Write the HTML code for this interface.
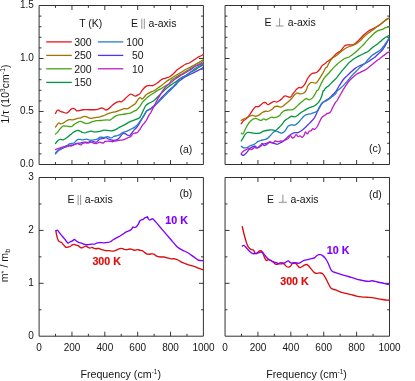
<!DOCTYPE html>
<html><head><meta charset="utf-8"><title>chart</title>
<style>
html,body{margin:0;padding:0;background:#fff;}
body{width:415px;height:381px;overflow:hidden;}
svg{display:block;font-family:"Liberation Sans",sans-serif;will-change:transform;filter:opacity(1);}
</style></head><body>
<svg width="415" height="381" viewBox="0 0 415 381">
<rect width="415" height="381" fill="#fff"/>
<path d="M39.10,5.50 H203.40 V164.50 H39.10 Z" fill="none" stroke="#262626" stroke-width="0.95"/>
<path d=" M55.53,164.50 v-2.40 M55.53,5.50 v2.40 M71.96,164.50 v-4.50 M71.96,5.50 v4.50 M88.39,164.50 v-2.40 M88.39,5.50 v2.40 M104.82,164.50 v-4.50 M104.82,5.50 v4.50 M121.25,164.50 v-2.40 M121.25,5.50 v2.40 M137.68,164.50 v-4.50 M137.68,5.50 v4.50 M154.11,164.50 v-2.40 M154.11,5.50 v2.40 M170.54,164.50 v-4.50 M170.54,5.50 v4.50 M186.97,164.50 v-2.40 M186.97,5.50 v2.40 M39.10,153.90 h2.40 M203.40,153.90 h-2.40 M39.10,143.30 h2.40 M203.40,143.30 h-2.40 M39.10,132.70 h2.40 M203.40,132.70 h-2.40 M39.10,122.10 h2.40 M203.40,122.10 h-2.40 M39.10,111.50 h4.50 M203.40,111.50 h-4.50 M39.10,100.90 h2.40 M203.40,100.90 h-2.40 M39.10,90.30 h2.40 M203.40,90.30 h-2.40 M39.10,79.70 h2.40 M203.40,79.70 h-2.40 M39.10,69.10 h2.40 M203.40,69.10 h-2.40 M39.10,58.50 h4.50 M203.40,58.50 h-4.50 M39.10,47.90 h2.40 M203.40,47.90 h-2.40 M39.10,37.30 h2.40 M203.40,37.30 h-2.40 M39.10,26.70 h2.40 M203.40,26.70 h-2.40 M39.10,16.10 h2.40 M203.40,16.10 h-2.40" fill="none" stroke="#222" stroke-width="0.9"/>
<path d="M225.05,5.50 H389.50 V164.50 H225.05 Z" fill="none" stroke="#262626" stroke-width="0.95"/>
<path d=" M241.50,164.50 v-2.40 M241.50,5.50 v2.40 M257.94,164.50 v-4.50 M257.94,5.50 v4.50 M274.38,164.50 v-2.40 M274.38,5.50 v2.40 M290.83,164.50 v-4.50 M290.83,5.50 v4.50 M307.27,164.50 v-2.40 M307.27,5.50 v2.40 M323.72,164.50 v-4.50 M323.72,5.50 v4.50 M340.16,164.50 v-2.40 M340.16,5.50 v2.40 M356.61,164.50 v-4.50 M356.61,5.50 v4.50 M373.06,164.50 v-2.40 M373.06,5.50 v2.40 M225.05,153.90 h2.40 M389.50,153.90 h-2.40 M225.05,143.30 h2.40 M389.50,143.30 h-2.40 M225.05,132.70 h2.40 M389.50,132.70 h-2.40 M225.05,122.10 h2.40 M389.50,122.10 h-2.40 M225.05,111.50 h4.50 M389.50,111.50 h-4.50 M225.05,100.90 h2.40 M389.50,100.90 h-2.40 M225.05,90.30 h2.40 M389.50,90.30 h-2.40 M225.05,79.70 h2.40 M389.50,79.70 h-2.40 M225.05,69.10 h2.40 M389.50,69.10 h-2.40 M225.05,58.50 h4.50 M389.50,58.50 h-4.50 M225.05,47.90 h2.40 M389.50,47.90 h-2.40 M225.05,37.30 h2.40 M389.50,37.30 h-2.40 M225.05,26.70 h2.40 M389.50,26.70 h-2.40 M225.05,16.10 h2.40 M389.50,16.10 h-2.40" fill="none" stroke="#222" stroke-width="0.9"/>
<path d="M39.10,177.50 H203.40 V336.20 H39.10 Z" fill="none" stroke="#262626" stroke-width="0.95"/>
<path d=" M55.53,336.20 v-2.40 M55.53,177.50 v2.40 M71.96,336.20 v-4.50 M71.96,177.50 v4.50 M88.39,336.20 v-2.40 M88.39,177.50 v2.40 M104.82,336.20 v-4.50 M104.82,177.50 v4.50 M121.25,336.20 v-2.40 M121.25,177.50 v2.40 M137.68,336.20 v-4.50 M137.68,177.50 v4.50 M154.11,336.20 v-2.40 M154.11,177.50 v2.40 M170.54,336.20 v-4.50 M170.54,177.50 v4.50 M186.97,336.20 v-2.40 M186.97,177.50 v2.40 M39.10,309.75 h2.40 M203.40,309.75 h-2.40 M39.10,283.30 h4.50 M203.40,283.30 h-4.50 M39.10,256.85 h2.40 M203.40,256.85 h-2.40 M39.10,230.40 h4.50 M203.40,230.40 h-4.50 M39.10,203.95 h2.40 M203.40,203.95 h-2.40" fill="none" stroke="#222" stroke-width="0.9"/>
<path d="M225.05,177.50 H389.50 V336.20 H225.05 Z" fill="none" stroke="#262626" stroke-width="0.95"/>
<path d=" M241.50,336.20 v-2.40 M241.50,177.50 v2.40 M257.94,336.20 v-4.50 M257.94,177.50 v4.50 M274.38,336.20 v-2.40 M274.38,177.50 v2.40 M290.83,336.20 v-4.50 M290.83,177.50 v4.50 M307.27,336.20 v-2.40 M307.27,177.50 v2.40 M323.72,336.20 v-4.50 M323.72,177.50 v4.50 M340.16,336.20 v-2.40 M340.16,177.50 v2.40 M356.61,336.20 v-4.50 M356.61,177.50 v4.50 M373.06,336.20 v-2.40 M373.06,177.50 v2.40 M225.05,309.75 h2.40 M389.50,309.75 h-2.40 M225.05,283.30 h4.50 M389.50,283.30 h-4.50 M225.05,256.85 h2.40 M389.50,256.85 h-2.40 M225.05,230.40 h4.50 M389.50,230.40 h-4.50 M225.05,203.95 h2.40 M389.50,203.95 h-2.40" fill="none" stroke="#222" stroke-width="0.9"/>
<path d="M55.49,113.51 C55.73,113.02 56.41,111.17 56.94,110.61 C57.47,110.06 58.02,110.01 58.67,110.18 C59.32,110.35 60.12,111.31 60.84,111.63 C61.57,111.94 62.17,111.82 63.01,112.06 C63.85,112.30 65.06,113.02 65.90,113.07 C66.75,113.12 67.23,113.00 68.07,112.35 C68.91,111.70 70.12,109.84 70.96,109.17 C71.81,108.49 72.41,108.25 73.13,108.30 C73.85,108.35 74.70,109.02 75.30,109.46 C75.90,109.89 76.14,110.71 76.75,110.90 C77.35,111.10 77.83,110.81 78.91,110.61 C80.00,110.42 81.56,109.89 83.25,109.75 C84.94,109.60 87.35,109.75 89.03,109.75 C90.72,109.75 91.93,109.79 93.37,109.75 C94.82,109.70 96.60,109.69 97.71,109.46 C98.81,109.22 99.20,108.56 100.00,108.33 C100.80,108.10 101.57,107.81 102.52,108.08 C103.46,108.35 104.83,109.76 105.67,109.97 C106.51,110.18 106.82,109.76 107.56,109.34 C108.29,108.92 109.24,108.19 110.08,107.45 C110.92,106.72 111.54,105.77 112.59,104.93 C113.64,104.09 115.32,102.98 116.37,102.41 C117.42,101.85 118.05,101.64 118.89,101.53 C119.73,101.43 120.57,102.06 121.41,101.78 C122.25,101.51 123.09,100.63 123.93,99.89 C124.77,99.16 125.40,98.32 126.45,97.38 C127.50,96.43 129.18,94.65 130.23,94.23 C131.28,93.81 131.91,94.54 132.75,94.86 C133.59,95.17 134.42,96.12 135.26,96.12 C136.10,96.12 136.99,95.27 137.78,94.86 C138.57,94.44 139.19,94.48 140.00,93.62 C140.81,92.76 141.64,90.89 142.62,89.69 C143.61,88.48 144.81,87.10 145.91,86.40 C147.00,85.70 147.98,85.64 149.19,85.49 C150.39,85.33 151.68,85.96 153.12,85.49 C154.57,85.01 156.43,83.67 157.87,82.65 C159.32,81.63 160.50,80.14 161.81,79.37 C163.12,78.60 164.44,78.50 165.75,78.06 C167.06,77.62 168.37,77.51 169.69,76.75 C171.00,75.98 172.31,74.67 173.62,73.46 C174.93,72.26 176.25,70.62 177.56,69.53 C178.87,68.43 180.18,67.78 181.50,66.90 C182.81,66.03 184.12,64.93 185.43,64.28 C186.75,63.62 188.06,63.62 189.37,62.97 C190.68,62.31 191.99,61.22 193.31,60.34 C194.62,59.47 195.93,58.48 197.24,57.72 C198.56,56.95 200.17,56.29 201.18,55.75 C202.19,55.20 202.93,54.65 203.28,54.44" fill="none" stroke="#e41820" stroke-width="1.3" stroke-linejoin="round" stroke-linecap="round"/>
<path d="M55.49,127.09 C55.78,126.69 56.65,125.34 57.23,124.64 C57.81,123.94 58.36,123.02 58.96,122.90 C59.57,122.78 60.17,123.87 60.84,123.91 C61.52,123.96 62.29,123.55 63.01,123.19 C63.73,122.83 64.46,122.23 65.18,121.75 C65.90,121.26 66.63,120.66 67.35,120.30 C68.07,119.94 68.79,119.65 69.52,119.58 C70.24,119.50 70.96,119.87 71.69,119.87 C72.41,119.87 73.13,119.75 73.85,119.58 C74.58,119.41 75.30,119.10 76.02,118.85 C76.75,118.61 77.47,118.25 78.19,118.13 C78.91,118.01 79.64,118.32 80.36,118.13 C81.08,117.94 81.81,117.26 82.53,116.97 C83.25,116.69 83.97,116.40 84.70,116.40 C85.42,116.40 86.14,116.73 86.87,116.97 C87.59,117.22 88.31,117.60 89.03,117.84 C89.76,118.08 90.48,118.42 91.20,118.42 C91.93,118.42 92.53,118.01 93.37,117.84 C94.21,117.67 95.17,117.58 96.26,117.41 C97.36,117.24 98.69,117.10 99.94,116.81 C101.19,116.52 102.51,116.17 103.78,115.67 C105.05,115.16 106.30,114.30 107.56,113.78 C108.82,113.25 110.08,112.83 111.34,112.52 C112.59,112.20 113.85,112.20 115.11,111.89 C116.37,111.57 117.42,111.16 118.89,110.63 C120.36,110.10 122.46,109.03 123.93,108.71 C125.40,108.39 126.45,109.13 127.71,108.71 C128.97,108.29 130.23,107.03 131.49,106.19 C132.75,105.35 134.21,104.72 135.26,103.67 C136.31,102.62 136.99,100.91 137.78,99.89 C138.57,98.88 139.19,97.73 140.00,97.56 C140.81,97.39 141.64,99.31 142.62,98.87 C143.61,98.43 145.03,95.81 145.91,94.93 C146.78,94.06 146.89,94.17 147.87,93.62 C148.86,93.08 150.50,92.31 151.81,91.65 C153.12,91.00 154.74,90.31 155.75,89.69 C156.76,89.06 156.86,88.64 157.87,87.90 C158.88,87.17 160.50,86.26 161.81,85.28 C163.12,84.29 164.44,82.98 165.75,81.99 C167.06,81.01 168.37,80.24 169.69,79.37 C171.00,78.50 172.31,77.58 173.62,76.75 C174.93,75.91 176.25,75.15 177.56,74.38 C178.87,73.62 180.18,72.96 181.50,72.15 C182.81,71.34 184.12,70.29 185.43,69.53 C186.75,68.76 188.06,68.22 189.37,67.56 C190.68,66.90 191.99,66.29 193.31,65.59 C194.62,64.89 195.93,64.13 197.24,63.36 C198.56,62.59 200.17,61.61 201.18,61.00 C202.19,60.38 202.93,59.90 203.28,59.69" fill="none" stroke="#a07400" stroke-width="1.3" stroke-linejoin="round" stroke-linecap="round"/>
<path d="M55.49,134.03 C55.78,133.79 56.65,133.19 57.23,132.59 C57.81,131.99 58.36,131.19 58.96,130.42 C59.57,129.65 60.17,128.69 60.84,127.96 C61.52,127.24 62.29,126.40 63.01,126.08 C63.73,125.77 64.46,126.08 65.18,126.08 C65.90,126.08 66.63,126.01 67.35,126.08 C68.07,126.16 68.79,126.44 69.52,126.52 C70.24,126.59 70.96,126.83 71.69,126.52 C72.41,126.20 73.13,125.19 73.85,124.64 C74.58,124.08 75.30,123.63 76.02,123.19 C76.75,122.76 77.47,122.32 78.19,122.03 C78.91,121.75 79.64,121.43 80.36,121.46 C81.08,121.48 81.81,121.89 82.53,122.18 C83.25,122.47 83.97,122.95 84.70,123.19 C85.42,123.43 86.14,123.63 86.87,123.63 C87.59,123.63 88.31,123.43 89.03,123.19 C89.76,122.95 90.48,122.47 91.20,122.18 C91.93,121.89 92.53,121.70 93.37,121.46 C94.21,121.22 95.17,120.89 96.26,120.73 C97.36,120.57 98.69,120.61 99.94,120.50 C101.19,120.39 102.51,120.19 103.78,120.08 C105.05,119.96 106.51,119.82 107.56,119.82 C108.61,119.82 109.24,120.35 110.08,120.08 C110.92,119.80 111.54,118.92 112.59,118.19 C113.64,117.45 115.32,116.23 116.37,115.67 C117.42,115.10 117.84,115.00 118.89,114.79 C119.94,114.58 121.41,114.58 122.67,114.41 C123.93,114.24 125.19,113.99 126.45,113.78 C127.71,113.57 129.18,113.46 130.23,113.15 C131.28,112.83 131.91,112.31 132.75,111.89 C133.59,111.47 134.63,110.95 135.26,110.63 C135.89,110.31 135.73,110.73 136.52,109.97 C137.31,109.21 138.98,107.39 140.00,106.09 C141.02,104.79 141.64,103.36 142.62,102.15 C143.61,100.95 144.70,99.97 145.91,98.87 C147.11,97.78 148.53,96.57 149.84,95.59 C151.15,94.61 152.47,93.84 153.78,92.97 C155.09,92.09 156.40,91.11 157.72,90.34 C159.03,89.58 160.34,89.14 161.65,88.37 C162.97,87.61 164.28,86.51 165.59,85.75 C166.90,84.98 168.63,84.62 169.53,83.78 C170.43,82.94 170.10,81.64 171.00,80.68 C171.90,79.73 173.62,78.93 174.93,78.06 C176.25,77.18 177.56,76.20 178.87,75.43 C180.18,74.67 181.50,74.23 182.81,73.46 C184.12,72.70 185.43,71.65 186.75,70.84 C188.06,70.03 189.37,69.37 190.68,68.61 C191.99,67.84 193.31,66.97 194.62,66.25 C195.93,65.52 197.11,65.09 198.56,64.28 C200.00,63.47 202.49,61.87 203.28,61.39" fill="none" stroke="#44a614" stroke-width="1.3" stroke-linejoin="round" stroke-linecap="round"/>
<path d="M55.49,143.51 C55.78,143.12 56.65,141.82 57.23,141.19 C57.81,140.57 58.36,140.04 58.96,139.75 C59.57,139.46 60.17,139.43 60.84,139.46 C61.52,139.48 62.29,140.01 63.01,139.89 C63.73,139.77 64.46,139.17 65.18,138.73 C65.90,138.30 66.63,137.82 67.35,137.29 C68.07,136.76 68.79,136.16 69.52,135.55 C70.24,134.95 70.96,134.28 71.69,133.67 C72.41,133.07 73.13,132.42 73.85,131.94 C74.58,131.46 75.30,131.02 76.02,130.78 C76.75,130.54 77.47,130.42 78.19,130.49 C78.91,130.57 79.64,130.88 80.36,131.22 C81.08,131.55 81.81,132.23 82.53,132.52 C83.25,132.81 83.97,133.00 84.70,132.95 C85.42,132.90 86.14,132.47 86.87,132.23 C87.59,131.99 88.31,131.70 89.03,131.51 C89.76,131.31 90.48,131.02 91.20,131.07 C91.93,131.12 92.53,131.67 93.37,131.79 C94.21,131.92 95.17,131.88 96.26,131.79 C97.36,131.71 98.69,131.59 99.94,131.31 C101.19,131.04 102.51,130.30 103.78,130.15 C105.05,130.00 106.30,130.30 107.56,130.40 C108.82,130.51 110.08,130.86 111.34,130.78 C112.59,130.70 113.85,130.42 115.11,129.90 C116.37,129.37 117.63,128.32 118.89,127.63 C120.15,126.94 121.41,126.41 122.67,125.74 C123.93,125.07 125.19,124.29 126.45,123.60 C127.71,122.91 128.97,122.17 130.23,121.59 C131.49,121.00 132.75,120.58 134.01,120.08 C135.26,119.57 136.78,119.04 137.78,118.56 C138.78,118.09 139.19,118.34 140.00,117.24 C140.81,116.15 141.64,113.96 142.62,111.99 C143.61,110.03 144.70,106.96 145.91,105.43 C147.11,103.90 148.53,103.57 149.84,102.81 C151.15,102.04 152.58,101.71 153.78,100.84 C154.98,99.97 155.86,98.76 157.06,97.56 C158.26,96.36 159.69,94.93 161.00,93.62 C162.31,92.31 163.62,90.89 164.93,89.69 C166.25,88.48 167.56,87.39 168.87,86.40 C170.18,85.42 171.50,84.65 172.81,83.78 C174.12,82.90 175.73,81.89 176.75,81.15 C177.76,80.42 177.86,80.10 178.87,79.37 C179.88,78.64 181.50,77.45 182.81,76.75 C184.12,76.05 185.43,75.94 186.75,75.17 C188.06,74.41 189.37,72.98 190.68,72.15 C191.99,71.32 193.31,70.95 194.62,70.18 C195.93,69.42 197.11,68.43 198.56,67.56 C200.00,66.68 202.49,65.37 203.28,64.93" fill="none" stroke="#009640" stroke-width="1.3" stroke-linejoin="round" stroke-linecap="round"/>
<path d="M55.49,153.91 C55.78,153.55 56.58,152.40 57.23,151.75 C57.88,151.10 58.67,150.49 59.40,150.01 C60.12,149.53 60.72,149.29 61.57,148.85 C62.41,148.42 63.49,147.82 64.46,147.41 C65.42,147.00 66.51,146.76 67.35,146.40 C68.19,146.04 68.79,145.43 69.52,145.24 C70.24,145.05 70.96,145.36 71.69,145.24 C72.41,145.12 73.13,144.81 73.85,144.52 C74.58,144.23 75.30,143.75 76.02,143.51 C76.75,143.26 77.47,143.14 78.19,143.07 C78.91,143.00 79.64,143.19 80.36,143.07 C81.08,142.95 81.81,142.52 82.53,142.35 C83.25,142.18 83.97,142.06 84.70,142.06 C85.42,142.06 86.14,142.35 86.87,142.35 C87.59,142.35 88.31,142.30 89.03,142.06 C89.76,141.82 90.48,140.98 91.20,140.90 C91.93,140.83 92.53,141.43 93.37,141.63 C94.21,141.82 95.42,142.30 96.26,142.06 C97.11,141.82 97.81,140.70 98.43,140.18 C99.05,139.66 99.11,139.27 100.00,138.97 C100.89,138.66 102.73,138.55 103.78,138.34 C104.83,138.13 105.46,137.56 106.30,137.71 C107.14,137.85 107.77,138.80 108.82,139.22 C109.87,139.64 111.34,140.10 112.59,140.23 C113.85,140.35 115.32,140.29 116.37,139.97 C117.42,139.66 118.05,139.14 118.89,138.34 C119.73,137.54 120.68,136.03 121.41,135.19 C122.15,134.35 122.67,133.55 123.30,133.30 C123.93,133.05 124.45,133.36 125.19,133.68 C125.92,133.99 126.97,134.83 127.71,135.19 C128.44,135.55 128.97,136.13 129.60,135.82 C130.23,135.50 130.75,134.24 131.49,133.30 C132.22,132.36 133.17,131.10 134.01,130.15 C134.84,129.21 135.68,128.68 136.52,127.63 C137.36,126.58 137.59,126.24 139.04,123.85 C140.50,121.47 143.89,115.50 145.25,113.31 C146.61,111.11 146.34,111.45 147.22,110.68 C148.09,109.92 149.41,109.48 150.50,108.71 C151.59,107.95 152.58,107.18 153.78,106.09 C154.98,105.00 156.40,103.57 157.72,102.15 C159.03,100.73 160.34,98.98 161.65,97.56 C162.97,96.14 164.28,94.93 165.59,93.62 C166.90,92.31 168.22,90.89 169.53,89.69 C170.84,88.48 172.15,87.61 173.46,86.40 C174.78,85.20 176.06,83.64 177.40,82.47 C178.74,81.29 180.16,80.32 181.50,79.37 C182.83,78.42 184.12,77.51 185.43,76.75 C186.75,75.98 188.06,75.43 189.37,74.78 C190.68,74.12 191.99,73.46 193.31,72.81 C194.62,72.15 195.93,71.50 197.24,70.84 C198.56,70.18 200.17,69.46 201.18,68.87 C202.19,68.28 202.93,67.56 203.28,67.30" fill="none" stroke="#5434f0" stroke-width="1.3" stroke-linejoin="round" stroke-linecap="round"/>
<path d="M55.49,153.19 C55.78,152.83 56.58,151.67 57.23,151.02 C57.88,150.37 58.67,149.77 59.40,149.29 C60.12,148.81 60.72,148.57 61.57,148.13 C62.41,147.70 63.49,147.17 64.46,146.69 C65.42,146.20 66.51,145.72 67.35,145.24 C68.19,144.76 68.79,144.08 69.52,143.79 C70.24,143.51 70.96,143.63 71.69,143.51 C72.41,143.38 73.13,143.51 73.85,143.07 C74.58,142.64 75.30,141.51 76.02,140.90 C76.75,140.30 77.47,139.70 78.19,139.46 C78.91,139.22 79.64,139.38 80.36,139.46 C81.08,139.53 81.81,139.89 82.53,139.89 C83.25,139.89 83.97,139.58 84.70,139.46 C85.42,139.34 86.14,139.10 86.87,139.17 C87.59,139.24 88.31,139.72 89.03,139.89 C89.76,140.06 90.48,140.18 91.20,140.18 C91.93,140.18 92.53,140.01 93.37,139.89 C94.21,139.77 95.42,139.72 96.26,139.46 C97.11,139.19 97.81,138.70 98.43,138.30 C99.05,137.90 99.11,137.22 100.00,137.08 C100.89,136.94 102.52,137.52 103.78,137.46 C105.04,137.39 106.30,136.62 107.56,136.70 C108.82,136.78 110.29,138.00 111.34,137.96 C112.38,137.92 113.01,136.81 113.85,136.45 C114.69,136.09 115.53,136.03 116.37,135.82 C117.21,135.61 118.05,135.61 118.89,135.19 C119.73,134.77 120.57,133.82 121.41,133.30 C122.25,132.77 123.09,132.36 123.93,132.04 C124.77,131.73 125.61,131.73 126.45,131.41 C127.29,131.10 128.13,130.57 128.97,130.15 C129.81,129.73 130.65,129.31 131.49,128.89 C132.33,128.47 133.17,128.16 134.01,127.63 C134.84,127.11 135.68,126.58 136.52,125.74 C137.36,124.90 137.81,124.34 139.04,122.59 C140.28,120.85 142.68,117.26 143.94,115.28 C145.19,113.29 145.58,111.67 146.56,110.68 C147.55,109.70 148.75,109.92 149.84,109.37 C150.94,108.82 151.92,108.39 153.12,107.40 C154.33,106.42 155.75,104.78 157.06,103.46 C158.37,102.15 159.69,100.84 161.00,99.53 C162.31,98.22 163.62,96.90 164.93,95.59 C166.25,94.28 167.56,92.97 168.87,91.65 C170.18,90.34 171.50,89.03 172.81,87.72 C174.12,86.40 175.63,85.17 176.75,83.78 C177.87,82.39 178.41,80.50 179.53,79.37 C180.65,78.24 182.15,77.84 183.46,77.01 C184.78,76.18 186.09,75.30 187.40,74.38 C188.71,73.46 190.03,72.52 191.34,71.50 C192.65,70.47 193.96,69.09 195.28,68.22 C196.59,67.34 197.88,66.92 199.21,66.25 C200.55,65.57 202.60,64.50 203.28,64.15" fill="none" stroke="#2a7fc0" stroke-width="1.3" stroke-linejoin="round" stroke-linecap="round"/>
<path d="M55.49,149.58 C55.78,149.46 56.58,149.10 57.23,148.85 C57.88,148.61 58.67,148.37 59.40,148.13 C60.12,147.89 60.72,147.65 61.57,147.41 C62.41,147.17 63.49,146.85 64.46,146.69 C65.42,146.52 66.51,146.52 67.35,146.40 C68.19,146.28 68.79,146.04 69.52,145.96 C70.24,145.89 70.96,146.13 71.69,145.96 C72.41,145.79 73.13,145.31 73.85,144.95 C74.58,144.59 75.30,143.99 76.02,143.79 C76.75,143.60 77.47,143.60 78.19,143.79 C78.91,143.99 79.64,145.00 80.36,144.95 C81.08,144.90 81.81,143.87 82.53,143.51 C83.25,143.14 83.97,142.85 84.70,142.78 C85.42,142.71 86.14,143.07 86.87,143.07 C87.59,143.07 88.31,142.95 89.03,142.78 C89.76,142.61 90.48,142.01 91.20,142.06 C91.93,142.11 92.53,142.83 93.37,143.07 C94.21,143.31 95.42,143.58 96.26,143.51 C97.11,143.43 97.81,142.87 98.43,142.64 C99.05,142.41 99.21,142.06 100.00,142.12 C100.79,142.18 102.31,143.10 103.15,143.00 C103.99,142.89 104.09,141.78 105.04,141.49 C105.98,141.19 107.56,141.19 108.82,141.23 C110.08,141.28 111.34,141.80 112.59,141.74 C113.85,141.68 115.11,141.11 116.37,140.86 C117.63,140.60 118.89,140.44 120.15,140.23 C121.41,140.02 122.67,139.97 123.93,139.60 C125.19,139.22 126.55,138.48 127.71,137.96 C128.86,137.43 130.02,137.12 130.86,136.45 C131.70,135.78 132.12,134.50 132.75,133.93 C133.38,133.36 133.90,133.26 134.63,133.05 C135.37,132.84 136.31,133.26 137.15,132.67 C137.99,132.08 138.83,130.68 139.67,129.52 C140.51,128.37 141.35,126.90 142.19,125.74 C143.03,124.59 143.98,123.55 144.71,122.59 C145.44,121.64 145.93,121.11 146.56,120.00 C147.20,118.89 147.76,117.27 148.53,115.93 C149.30,114.60 150.28,113.53 151.15,111.99 C152.03,110.46 152.90,108.50 153.78,106.75 C154.65,105.00 155.42,103.36 156.40,101.50 C157.39,99.64 158.59,97.45 159.69,95.59 C160.78,93.73 161.87,91.87 162.97,90.34 C164.06,88.81 165.04,87.61 166.25,86.40 C167.45,85.20 169.28,83.86 170.18,83.12 C171.08,82.39 170.75,82.73 171.65,81.99 C172.55,81.26 174.28,79.70 175.59,78.71 C176.90,77.73 178.22,76.90 179.53,76.09 C180.84,75.28 182.15,74.62 183.46,73.86 C184.78,73.09 186.09,72.28 187.40,71.50 C188.71,70.71 190.03,70.01 191.34,69.13 C192.65,68.26 193.96,66.95 195.28,66.25 C196.59,65.55 197.88,65.48 199.21,64.93 C200.55,64.39 202.60,63.29 203.28,62.97" fill="none" stroke="#c01cc8" stroke-width="1.3" stroke-linejoin="round" stroke-linecap="round"/>
<path d="M241.25,123.71 C241.58,123.28 242.45,121.85 243.22,121.09 C243.98,120.32 244.97,119.89 245.84,119.12 C246.72,118.36 247.59,117.59 248.47,116.50 C249.34,115.40 250.22,113.87 251.09,112.56 C251.97,111.25 252.95,109.61 253.72,108.62 C254.48,107.64 254.92,106.98 255.69,106.65 C256.45,106.33 257.43,106.98 258.31,106.65 C259.18,106.33 260.06,105.34 260.93,104.69 C261.81,104.03 262.79,103.04 263.56,102.72 C264.32,102.39 264.76,102.39 265.53,102.72 C266.29,103.04 267.28,104.62 268.15,104.69 C269.03,104.75 269.79,103.66 270.78,103.11 C271.76,102.56 273.07,101.58 274.06,101.40 C275.04,101.23 275.81,102.17 276.68,102.06 C277.56,101.95 278.43,101.29 279.31,100.75 C280.18,100.20 280.98,99.59 281.93,98.78 C282.88,97.97 283.61,96.17 285.00,95.91 C286.39,95.65 288.94,97.55 290.25,97.22 C291.56,96.89 292.00,95.03 292.87,93.94 C293.75,92.84 294.95,91.38 295.50,90.66 C296.05,89.94 295.61,90.12 296.15,89.62 C296.70,89.12 297.90,87.98 298.78,87.65 C299.65,87.32 300.42,88.20 301.40,87.65 C302.39,87.10 303.70,85.79 304.69,84.37 C305.67,82.95 306.43,80.65 307.31,79.12 C308.18,77.59 308.95,76.17 309.93,75.18 C310.92,74.20 312.12,73.65 313.22,73.22 C314.31,72.78 315.40,73.22 316.50,72.56 C317.59,71.90 318.79,70.48 319.78,69.28 C320.76,68.08 321.42,66.33 322.40,65.34 C323.39,64.36 325.03,63.90 325.68,63.37 C326.33,62.85 325.77,62.68 326.31,62.20 C326.85,61.73 327.84,61.33 328.94,60.50 C330.03,59.67 331.56,58.42 332.87,57.22 C334.19,56.01 335.50,54.37 336.81,53.28 C338.12,52.19 339.40,51.92 340.75,50.66 C342.09,49.39 343.53,46.68 344.87,45.70 C346.22,44.72 347.50,44.93 348.81,44.78 C350.12,44.62 351.44,45.21 352.75,44.78 C354.06,44.34 355.37,43.25 356.69,42.15 C358.00,41.06 359.31,39.53 360.62,38.22 C361.93,36.90 363.25,35.48 364.56,34.28 C365.87,33.08 367.18,31.87 368.50,31.00 C369.81,30.12 371.12,29.69 372.43,29.03 C373.75,28.37 375.06,27.83 376.37,27.06 C377.68,26.29 378.99,25.42 380.31,24.44 C381.62,23.45 383.04,22.07 384.24,21.15 C385.45,20.24 386.69,19.38 387.52,18.92 C388.36,18.46 388.95,18.49 389.23,18.40" fill="none" stroke="#e41820" stroke-width="1.3" stroke-linejoin="round" stroke-linecap="round"/>
<path d="M241.25,120.43 C241.69,120.17 243.00,119.30 243.87,118.86 C244.75,118.42 245.62,118.20 246.50,117.81 C247.37,117.41 248.14,116.89 249.12,116.50 C250.11,116.10 251.31,115.49 252.40,115.45 C253.50,115.40 254.59,116.28 255.69,116.23 C256.78,116.19 257.87,115.80 258.97,115.18 C260.06,114.57 261.15,113.22 262.25,112.56 C263.34,111.90 264.43,111.47 265.53,111.25 C266.62,111.03 267.71,111.57 268.81,111.25 C269.90,110.92 271.10,110.04 272.09,109.28 C273.07,108.51 273.84,107.16 274.71,106.65 C275.59,106.15 276.35,106.19 277.34,106.26 C278.32,106.33 279.64,107.09 280.62,107.05 C281.60,107.00 282.51,106.43 283.24,106.00 C283.97,105.56 284.16,105.13 285.00,104.44 C285.84,103.74 287.19,102.80 288.28,101.81 C289.37,100.83 290.47,99.73 291.56,98.53 C292.66,97.33 293.86,95.53 294.84,94.59 C295.83,93.65 296.59,93.00 297.47,92.89 C298.34,92.78 299.11,93.87 300.09,93.94 C301.08,94.00 302.39,93.83 303.37,93.28 C304.36,92.73 305.23,91.92 306.00,90.66 C306.76,89.39 307.09,87.06 307.97,85.68 C308.84,84.31 309.93,82.84 311.25,82.40 C312.56,81.96 314.53,83.60 315.84,83.06 C317.15,82.51 318.03,80.65 319.12,79.12 C320.21,77.59 321.31,75.73 322.40,73.87 C323.50,72.01 324.92,69.10 325.68,67.97 C326.44,66.83 326.32,68.09 326.97,67.06 C327.62,66.03 328.61,63.34 329.59,61.81 C330.58,60.28 331.67,58.97 332.87,57.87 C334.08,56.78 335.50,56.23 336.81,55.25 C338.12,54.27 339.40,53.06 340.75,51.97 C342.09,50.88 343.53,49.58 344.87,48.71 C346.22,47.84 347.50,47.29 348.81,46.75 C350.12,46.20 351.44,45.98 352.75,45.43 C354.06,44.89 355.37,44.34 356.69,43.46 C358.00,42.59 359.31,41.39 360.62,40.18 C361.93,38.98 363.25,37.45 364.56,36.25 C365.87,35.04 367.18,33.95 368.50,32.97 C369.81,31.98 371.12,31.33 372.43,30.34 C373.75,29.36 375.06,28.04 376.37,27.06 C377.68,26.08 378.99,25.42 380.31,24.44 C381.62,23.45 383.04,22.07 384.24,21.15 C385.45,20.24 386.69,19.43 387.52,18.92 C388.36,18.42 388.95,18.27 389.23,18.14" fill="none" stroke="#a07400" stroke-width="1.3" stroke-linejoin="round" stroke-linecap="round"/>
<path d="M241.25,133.12 C241.58,133.23 242.56,134.44 243.22,133.78 C243.87,133.12 244.42,130.72 245.19,129.19 C245.95,127.66 246.94,125.91 247.81,124.59 C248.69,123.28 249.56,122.22 250.44,121.31 C251.31,120.40 252.19,119.60 253.06,119.12 C253.94,118.65 254.81,118.42 255.69,118.46 C256.56,118.51 257.43,119.06 258.31,119.38 C259.18,119.71 260.06,120.52 260.93,120.43 C261.81,120.35 262.68,118.97 263.56,118.86 C264.43,118.75 265.31,119.84 266.18,119.78 C267.06,119.71 267.93,118.90 268.81,118.46 C269.68,118.03 270.56,117.31 271.43,117.15 C272.31,117.00 273.18,117.55 274.06,117.55 C274.93,117.55 275.81,117.44 276.68,117.15 C277.56,116.87 278.43,116.61 279.31,115.84 C280.18,115.07 281.17,113.37 281.93,112.56 C282.70,111.75 283.39,111.35 283.90,110.98 C284.41,110.61 284.16,110.51 285.00,110.34 C285.84,110.17 287.62,110.06 288.94,109.95 C290.25,109.84 291.67,110.17 292.87,109.69 C294.08,109.20 295.06,108.04 296.15,107.06 C297.25,106.08 298.34,104.76 299.44,103.78 C300.53,102.80 301.62,102.03 302.72,101.15 C303.81,100.28 304.90,98.75 306.00,98.53 C307.09,98.31 308.18,99.95 309.28,99.84 C310.37,99.73 311.57,98.86 312.56,97.87 C313.54,96.89 314.46,95.14 315.18,93.94 C315.91,92.73 316.34,91.38 316.89,90.66 C317.44,89.94 317.76,90.78 318.46,89.62 C319.16,88.46 320.10,85.68 321.09,83.71 C322.07,81.75 323.06,79.60 324.37,77.81 C325.68,76.02 327.52,74.54 328.94,72.97 C330.35,71.39 331.56,69.79 332.87,68.37 C334.19,66.95 335.50,65.64 336.81,64.44 C338.12,63.23 339.44,62.14 340.75,61.15 C342.06,60.17 343.37,59.19 344.69,58.53 C346.00,57.87 347.31,57.87 348.62,57.22 C349.93,56.56 351.23,55.58 352.56,54.59 C353.89,53.61 355.25,52.52 356.59,51.33 C357.93,50.13 359.29,48.71 360.62,47.40 C361.95,46.09 363.25,44.89 364.56,43.46 C365.87,42.04 367.18,40.29 368.50,38.87 C369.81,37.45 371.12,36.14 372.43,34.93 C373.75,33.73 375.28,32.42 376.37,31.65 C377.46,30.89 378.01,30.71 378.99,30.34 C379.98,29.97 381.18,29.86 382.28,29.42 C383.37,28.99 384.40,28.15 385.56,27.72 C386.72,27.28 388.62,26.95 389.23,26.80" fill="none" stroke="#44a614" stroke-width="1.3" stroke-linejoin="round" stroke-linecap="round"/>
<path d="M241.25,141.00 C241.58,140.45 242.56,138.81 243.22,137.72 C243.87,136.62 244.42,135.31 245.19,134.44 C245.95,133.56 246.72,132.73 247.81,132.47 C248.90,132.20 250.44,132.71 251.75,132.86 C253.06,133.01 254.37,133.34 255.69,133.39 C257.00,133.43 258.31,133.50 259.62,133.12 C260.93,132.75 262.25,131.64 263.56,131.15 C264.87,130.67 266.18,130.45 267.50,130.24 C268.81,130.02 270.12,129.80 271.43,129.84 C272.75,129.89 274.28,130.72 275.37,130.50 C276.46,130.28 277.12,129.30 277.99,128.53 C278.87,127.76 279.74,126.89 280.62,125.91 C281.49,124.92 282.53,123.54 283.24,122.62 C283.96,121.71 284.07,121.15 284.91,120.42 C285.75,119.69 287.17,118.91 288.28,118.22 C289.39,117.52 290.47,116.47 291.56,116.25 C292.66,116.03 293.75,117.12 294.84,116.90 C295.94,116.68 297.03,115.70 298.12,114.93 C299.22,114.17 300.31,113.08 301.40,112.31 C302.50,111.54 303.59,111.00 304.69,110.34 C305.78,109.69 306.87,108.92 307.97,108.37 C309.06,107.83 310.15,107.50 311.25,107.06 C312.34,106.62 313.43,106.40 314.53,105.75 C315.62,105.09 316.82,104.22 317.81,103.12 C318.79,102.03 319.67,100.72 320.43,99.19 C321.20,97.66 321.96,95.31 322.40,93.94 C322.84,92.56 322.77,91.48 323.06,90.93 C323.34,90.38 323.78,91.03 324.11,90.66 C324.43,90.29 324.20,89.58 325.00,88.71 C325.80,87.84 327.62,86.64 328.94,85.43 C330.25,84.23 331.56,82.81 332.87,81.50 C334.19,80.18 335.50,79.09 336.81,77.56 C338.12,76.03 339.44,73.95 340.75,72.31 C342.06,70.67 343.37,69.25 344.69,67.72 C346.00,66.19 347.31,64.44 348.62,63.12 C349.93,61.81 351.25,60.83 352.56,59.84 C353.87,58.86 355.18,57.98 356.50,57.22 C357.81,56.45 359.12,55.91 360.43,55.25 C361.75,54.59 363.06,53.94 364.37,53.28 C365.68,52.62 366.96,52.29 368.31,51.31 C369.65,50.33 371.09,48.49 372.43,47.40 C373.78,46.31 375.06,45.76 376.37,44.78 C377.68,43.79 378.99,42.59 380.31,41.50 C381.62,40.40 383.04,39.09 384.24,38.22 C385.45,37.34 386.69,36.68 387.52,36.25 C388.36,35.81 388.95,35.70 389.23,35.59" fill="none" stroke="#009640" stroke-width="1.3" stroke-linejoin="round" stroke-linecap="round"/>
<path d="M241.25,154.12 C241.58,154.34 242.45,155.54 243.22,155.43 C243.98,155.32 244.86,154.45 245.84,153.46 C246.83,152.48 248.03,150.62 249.12,149.53 C250.22,148.43 251.42,147.45 252.40,146.90 C253.39,146.36 254.15,146.14 255.03,146.25 C255.90,146.36 256.78,147.67 257.65,147.56 C258.53,147.45 259.51,146.29 260.28,145.59 C261.04,144.89 261.59,143.36 262.25,143.36 C262.90,143.36 263.45,145.44 264.22,145.59 C264.98,145.74 265.97,144.83 266.84,144.28 C267.71,143.73 268.59,142.53 269.46,142.31 C270.34,142.09 271.21,142.75 272.09,142.97 C272.96,143.18 273.84,143.40 274.71,143.62 C275.59,143.84 276.46,144.39 277.34,144.28 C278.21,144.17 279.09,143.40 279.96,142.97 C280.84,142.53 281.79,142.17 282.59,141.65 C283.39,141.13 283.83,140.69 284.78,139.84 C285.73,139.00 287.15,137.57 288.28,136.59 C289.41,135.61 290.47,134.62 291.56,133.96 C292.66,133.31 293.75,132.87 294.84,132.65 C295.94,132.43 297.03,132.98 298.12,132.65 C299.22,132.32 300.31,131.45 301.40,130.68 C302.50,129.92 303.59,129.04 304.69,128.06 C305.78,127.07 306.87,125.87 307.97,124.78 C309.06,123.68 310.15,122.70 311.25,121.50 C312.34,120.29 313.54,119.09 314.53,117.56 C315.51,116.03 316.28,114.06 317.15,112.31 C318.03,110.56 318.90,108.59 319.78,107.06 C320.65,105.53 321.42,104.22 322.40,103.12 C323.39,102.03 324.59,101.26 325.68,100.50 C326.78,99.73 327.87,99.41 328.96,98.53 C330.06,97.66 331.15,96.34 332.24,95.25 C333.34,94.16 334.33,93.60 335.52,91.97 C336.72,90.33 338.13,87.51 339.44,85.43 C340.74,83.36 342.06,81.17 343.37,79.53 C344.69,77.89 346.00,76.90 347.31,75.59 C348.62,74.28 349.93,72.86 351.25,71.65 C352.56,70.45 353.87,69.31 355.18,68.37 C356.50,67.43 357.81,66.67 359.12,66.01 C360.43,65.35 361.75,65.03 363.06,64.44 C364.37,63.85 365.68,63.23 366.99,62.47 C368.31,61.70 369.62,60.72 370.93,59.84 C372.24,58.97 373.53,58.31 374.87,57.22 C376.20,56.12 378.14,54.04 378.94,53.28 C379.73,52.52 379.09,53.19 379.65,52.65 C380.21,52.11 381.40,51.12 382.28,50.03 C383.15,48.93 384.03,47.51 384.90,46.09 C385.78,44.67 386.80,42.87 387.52,41.50 C388.25,40.12 388.95,38.43 389.23,37.82" fill="none" stroke="#5434f0" stroke-width="1.3" stroke-linejoin="round" stroke-linecap="round"/>
<path d="M241.25,146.25 C241.69,146.51 242.89,147.60 243.87,147.82 C244.86,148.04 246.06,147.93 247.15,147.56 C248.25,147.19 249.23,146.14 250.44,145.59 C251.64,145.04 253.17,144.93 254.37,144.28 C255.58,143.62 256.56,142.31 257.65,141.65 C258.75,141.00 259.84,140.67 260.93,140.34 C262.03,140.01 263.12,140.01 264.22,139.69 C265.31,139.36 266.40,139.14 267.50,138.37 C268.59,137.61 269.68,136.19 270.78,135.09 C271.87,134.00 273.07,132.47 274.06,131.81 C275.04,131.15 275.81,131.05 276.68,131.15 C277.56,131.26 278.43,132.14 279.31,132.47 C280.18,132.80 281.02,133.33 281.93,133.12 C282.84,132.92 283.72,132.42 284.78,131.25 C285.84,130.07 287.15,127.17 288.28,126.09 C289.41,125.01 290.47,124.93 291.56,124.78 C292.66,124.62 293.75,125.50 294.84,125.17 C295.94,124.84 297.03,123.86 298.12,122.81 C299.22,121.76 300.31,120.07 301.40,118.87 C302.50,117.67 303.59,116.36 304.69,115.59 C305.78,114.83 306.87,114.61 307.97,114.28 C309.06,113.95 310.15,113.95 311.25,113.62 C312.34,113.29 313.54,112.75 314.53,112.31 C315.51,111.87 316.28,111.98 317.15,111.00 C318.03,110.01 318.90,107.83 319.78,106.40 C320.65,104.98 321.42,103.34 322.40,102.47 C323.39,101.59 324.59,101.70 325.68,101.15 C326.78,100.61 327.87,99.95 328.96,99.19 C330.06,98.42 331.15,97.44 332.24,96.56 C333.34,95.69 334.76,94.81 335.52,93.94 C336.29,93.07 335.94,92.32 336.81,91.34 C337.68,90.36 339.44,89.26 340.75,88.06 C342.06,86.85 343.37,85.54 344.69,84.12 C346.00,82.70 347.31,81.06 348.62,79.53 C349.93,78.00 351.25,76.36 352.56,74.93 C353.87,73.51 355.18,72.31 356.50,71.00 C357.81,69.69 359.12,68.26 360.43,67.06 C361.75,65.86 363.06,65.09 364.37,63.78 C365.68,62.47 366.99,60.61 368.31,59.19 C369.62,57.76 370.93,56.34 372.24,55.25 C373.56,54.16 375.07,53.32 376.18,52.62 C377.30,51.92 378.03,51.70 378.94,51.05 C379.84,50.40 380.73,49.65 381.62,48.71 C382.50,47.78 383.37,46.64 384.24,45.43 C385.12,44.23 386.04,42.70 386.87,41.50 C387.70,40.29 388.84,38.76 389.23,38.22" fill="none" stroke="#2a7fc0" stroke-width="1.3" stroke-linejoin="round" stroke-linecap="round"/>
<path d="M241.25,153.46 C241.69,153.03 243.00,151.50 243.87,150.84 C244.75,150.18 245.62,149.97 246.50,149.53 C247.37,149.09 248.25,148.22 249.12,148.22 C250.00,148.22 250.87,149.64 251.75,149.53 C252.62,149.42 253.50,147.78 254.37,147.56 C255.25,147.34 256.12,148.32 257.00,148.22 C257.87,148.11 258.75,147.45 259.62,146.90 C260.50,146.36 261.37,145.48 262.25,144.93 C263.12,144.39 264.00,143.95 264.87,143.62 C265.75,143.29 266.62,143.29 267.50,142.97 C268.37,142.64 269.25,141.65 270.12,141.65 C271.00,141.65 271.87,143.08 272.75,142.97 C273.62,142.86 274.50,141.22 275.37,141.00 C276.24,140.78 277.12,141.65 277.99,141.65 C278.87,141.65 279.74,141.11 280.62,141.00 C281.49,140.89 282.37,141.22 283.24,141.00 C284.12,140.78 284.99,140.12 285.87,139.69 C286.74,139.25 287.76,139.11 288.49,138.37 C289.22,137.64 289.63,135.35 290.25,135.28 C290.87,135.20 291.56,137.57 292.22,137.90 C292.87,138.23 293.53,137.79 294.19,137.24 C294.84,136.70 295.50,134.73 296.15,134.62 C296.81,134.51 297.47,136.37 298.12,136.59 C298.78,136.81 299.44,135.82 300.09,135.93 C300.75,136.04 301.40,137.35 302.06,137.24 C302.72,137.13 303.48,136.15 304.03,135.28 C304.58,134.40 304.79,132.21 305.34,131.99 C305.89,131.78 306.65,134.07 307.31,133.96 C307.97,133.85 308.62,131.89 309.28,131.34 C309.93,130.79 310.70,131.12 311.25,130.68 C311.79,130.24 312.01,128.93 312.56,128.71 C313.11,128.50 313.76,129.70 314.53,129.37 C315.29,129.04 316.39,127.84 317.15,126.75 C317.92,125.65 318.36,124.34 319.12,122.81 C319.89,121.28 320.87,118.76 321.75,117.56 C322.62,116.36 323.50,116.25 324.37,115.59 C325.24,114.93 326.01,114.17 326.99,113.62 C327.98,113.08 329.29,113.40 330.28,112.31 C331.26,111.22 332.03,108.70 332.90,107.06 C333.78,105.42 334.76,103.64 335.52,102.47 C336.29,101.29 336.60,101.42 337.47,100.00 C338.34,98.58 339.55,96.06 340.75,93.96 C341.95,91.86 343.37,89.48 344.69,87.40 C346.00,85.32 347.31,83.14 348.62,81.50 C349.93,79.86 351.25,78.76 352.56,77.56 C353.87,76.36 355.18,75.15 356.50,74.28 C357.81,73.40 359.12,72.97 360.43,72.31 C361.75,71.65 363.06,71.11 364.37,70.34 C365.68,69.58 366.99,68.70 368.31,67.72 C369.62,66.73 370.93,65.53 372.24,64.44 C373.56,63.34 375.07,62.03 376.18,61.15 C377.30,60.28 378.03,59.84 378.94,59.19 C379.84,58.53 380.63,58.01 381.62,57.24 C382.61,56.48 383.92,55.38 384.90,54.62 C385.88,53.85 386.80,53.09 387.52,52.65 C388.25,52.21 388.95,52.10 389.23,51.99" fill="none" stroke="#c01cc8" stroke-width="1.3" stroke-linejoin="round" stroke-linecap="round"/>
<path d="M55.91,231.00 C56.01,231.65 56.28,233.62 56.56,234.93 C56.85,236.25 57.28,237.89 57.61,238.87 C57.94,239.86 58.16,240.36 58.53,240.84 C58.90,241.32 59.34,241.47 59.84,241.76 C60.35,242.04 61.00,242.11 61.55,242.55 C62.10,242.98 62.60,243.79 63.12,244.38 C63.65,244.97 64.22,245.59 64.70,246.09 C65.18,246.59 65.40,247.25 66.01,247.40 C66.62,247.55 67.65,247.16 68.37,247.01 C69.09,246.85 69.69,246.85 70.34,246.48 C71.00,246.11 71.65,245.13 72.31,244.78 C72.97,244.43 73.62,244.32 74.28,244.38 C74.93,244.45 75.59,244.95 76.25,245.17 C76.90,245.39 77.56,245.32 78.22,245.70 C78.87,246.07 79.53,247.05 80.18,247.40 C80.84,247.75 81.50,247.90 82.15,247.80 C82.81,247.69 83.46,247.03 84.12,246.75 C84.78,246.46 85.43,245.98 86.09,246.09 C86.75,246.20 87.40,247.07 88.06,247.40 C88.71,247.73 89.37,248.06 90.03,248.06 C90.68,248.06 91.34,247.36 91.99,247.40 C92.65,247.45 93.31,248.10 93.96,248.32 C94.62,248.54 95.17,248.71 95.93,248.71 C96.70,248.71 97.88,248.28 98.56,248.32 C99.23,248.36 99.32,248.70 100.00,248.96 C100.68,249.22 101.64,249.60 102.62,249.88 C103.61,250.17 104.81,250.54 105.91,250.67 C107.00,250.80 108.09,250.58 109.19,250.67 C110.28,250.76 111.37,251.26 112.47,251.19 C113.56,251.13 114.65,250.65 115.75,250.28 C116.84,249.90 118.04,249.29 119.03,248.96 C120.01,248.64 120.78,248.24 121.65,248.31 C122.53,248.37 123.40,249.14 124.28,249.36 C125.15,249.58 126.03,249.69 126.90,249.62 C127.78,249.55 128.65,249.01 129.53,248.96 C130.40,248.92 131.28,249.14 132.15,249.36 C133.03,249.58 133.90,250.23 134.78,250.28 C135.65,250.32 136.53,249.62 137.40,249.62 C138.28,249.62 139.15,250.06 140.03,250.28 C140.90,250.49 141.89,250.56 142.65,250.93 C143.42,251.30 143.96,252.03 144.62,252.51 C145.28,252.99 145.82,253.53 146.59,253.82 C147.35,254.10 148.34,254.21 149.21,254.21 C150.09,254.21 151.05,253.82 151.84,253.82 C152.62,253.82 153.15,253.84 153.94,254.21 C154.72,254.59 155.51,255.60 156.56,256.06 C157.60,256.52 159.00,256.83 160.22,256.98 C161.44,257.13 162.66,256.83 163.88,256.98 C165.10,257.13 166.32,257.59 167.55,257.89 C168.77,258.20 169.99,258.66 171.21,258.81 C172.43,258.96 173.65,258.57 174.87,258.81 C176.09,259.05 177.31,259.66 178.53,260.27 C179.76,260.89 180.98,261.86 182.20,262.47 C183.42,263.08 184.64,263.48 185.86,263.94 C187.08,264.40 188.30,264.85 189.52,265.22 C190.74,265.59 191.97,265.74 193.19,266.14 C194.41,266.53 195.63,267.14 196.85,267.60 C198.07,268.06 199.44,268.52 200.51,268.88 C201.58,269.25 202.80,269.65 203.26,269.80" fill="none" stroke="#dc0c0c" stroke-width="1.35" stroke-linejoin="round" stroke-linecap="round"/>
<path d="M55.91,230.73 C56.19,230.67 57.06,230.08 57.61,230.34 C58.16,230.60 58.60,231.54 59.19,232.31 C59.78,233.08 60.50,234.10 61.15,234.93 C61.81,235.77 62.47,236.53 63.12,237.30 C63.78,238.06 64.44,238.72 65.09,239.53 C65.75,240.34 66.51,241.56 67.06,242.15 C67.61,242.74 67.83,243.14 68.37,243.07 C68.92,243.01 69.69,242.13 70.34,241.76 C71.00,241.39 71.65,241.21 72.31,240.84 C72.97,240.47 73.73,239.64 74.28,239.53 C74.83,239.42 75.15,239.86 75.59,240.18 C76.03,240.51 76.25,241.10 76.90,241.50 C77.56,241.89 78.65,242.22 79.53,242.55 C80.40,242.87 81.28,243.16 82.15,243.46 C83.03,243.77 84.01,244.16 84.78,244.38 C85.54,244.60 85.98,244.78 86.75,244.78 C87.51,244.78 88.50,244.49 89.37,244.38 C90.24,244.27 91.12,244.16 91.99,244.12 C92.87,244.08 93.74,244.34 94.62,244.12 C95.49,243.90 96.37,243.07 97.24,242.81 C98.12,242.55 98.75,242.55 99.87,242.55 C100.98,242.54 102.60,242.82 103.94,242.80 C105.27,242.77 106.78,242.58 107.87,242.40 C108.97,242.23 109.62,242.18 110.50,241.75 C111.37,241.31 112.14,240.43 113.12,239.78 C114.11,239.12 115.31,238.40 116.40,237.81 C117.50,237.22 118.59,236.85 119.69,236.23 C120.78,235.62 121.87,234.86 122.97,234.13 C124.06,233.41 125.15,232.49 126.25,231.90 C127.34,231.31 128.65,231.03 129.53,230.59 C130.40,230.15 130.95,229.87 131.50,229.28 C132.04,228.69 132.33,227.33 132.81,227.05 C133.29,226.76 133.84,227.57 134.38,227.57 C134.93,227.57 135.48,227.53 136.09,227.05 C136.70,226.57 137.40,225.73 138.06,224.69 C138.71,223.64 139.37,221.58 140.03,220.75 C140.68,219.92 141.40,219.96 141.99,219.70 C142.59,219.44 143.13,219.48 143.57,219.17 C144.01,218.87 144.18,218.15 144.62,217.86 C145.06,217.58 145.71,217.64 146.19,217.47 C146.68,217.29 147.16,216.59 147.51,216.81 C147.86,217.03 147.89,218.23 148.29,218.78 C148.70,219.33 149.21,220.09 149.93,220.09 C150.66,220.09 151.74,218.56 152.62,218.78 C153.51,219.00 154.16,220.20 155.25,221.40 C156.34,222.61 157.87,224.47 159.19,226.00 C160.50,227.53 161.81,229.06 163.12,230.59 C164.44,232.12 165.75,233.65 167.06,235.18 C168.37,236.71 169.69,238.25 171.00,239.78 C172.31,241.31 173.73,243.06 174.93,244.37 C176.14,245.68 176.90,246.67 178.22,247.65 C179.53,248.64 181.28,249.47 182.81,250.28 C184.34,251.08 185.98,251.69 187.40,252.51 C188.83,253.32 189.93,254.16 191.36,255.15 C192.78,256.14 194.71,257.59 195.93,258.44 C197.16,259.30 197.46,259.91 198.68,260.27 C199.90,260.64 202.50,260.58 203.26,260.64" fill="none" stroke="#8000ff" stroke-width="1.35" stroke-linejoin="round" stroke-linecap="round"/>
<path d="M242.30,226.55 C242.45,227.25 242.85,229.17 243.22,230.75 C243.59,232.32 244.09,234.36 244.53,236.00 C244.97,237.64 245.41,239.17 245.84,240.59 C246.28,242.01 246.72,243.43 247.15,244.53 C247.59,245.62 247.92,246.39 248.47,247.15 C249.01,247.92 249.78,248.68 250.44,249.12 C251.09,249.56 251.86,249.56 252.40,249.78 C252.95,250.00 253.28,249.89 253.72,250.43 C254.15,250.98 254.59,252.51 255.03,253.06 C255.47,253.60 255.79,253.93 256.34,253.71 C256.89,253.50 257.65,252.25 258.31,251.75 C258.97,251.24 259.62,250.70 260.28,250.70 C260.93,250.70 261.70,251.02 262.25,251.75 C262.79,252.47 263.08,253.82 263.56,255.03 C264.04,256.23 264.59,258.02 265.13,258.96 C265.68,259.90 266.34,260.56 266.84,260.67 C267.34,260.78 267.50,259.69 268.15,259.62 C268.81,259.55 269.90,259.84 270.78,260.28 C271.65,260.71 272.64,261.59 273.40,262.24 C274.17,262.90 274.60,263.88 275.37,264.21 C276.14,264.54 277.22,264.44 277.99,264.21 C278.77,263.98 279.23,263.05 280.00,262.82 C280.77,262.59 281.86,262.54 282.62,262.82 C283.39,263.11 283.94,263.92 284.59,264.53 C285.25,265.14 285.91,266.06 286.56,266.50 C287.22,266.93 287.87,267.20 288.53,267.15 C289.19,267.11 289.95,266.74 290.50,266.23 C291.05,265.73 291.37,264.70 291.81,264.13 C292.25,263.57 292.58,263.04 293.12,262.82 C293.67,262.60 294.44,262.47 295.09,262.82 C295.75,263.17 296.40,264.20 297.06,264.92 C297.72,265.64 298.48,266.71 299.03,267.15 C299.58,267.59 299.79,267.66 300.34,267.55 C300.89,267.44 301.65,266.89 302.31,266.50 C302.97,266.10 303.62,265.51 304.28,265.18 C304.93,264.86 305.59,264.48 306.25,264.53 C306.90,264.57 307.56,264.90 308.22,265.45 C308.87,265.99 309.53,267.02 310.18,267.81 C310.84,268.60 311.50,269.41 312.15,270.17 C312.81,270.94 313.46,271.88 314.12,272.40 C314.78,272.93 315.32,273.21 316.09,273.32 C316.85,273.43 318.06,273.12 318.71,273.06 C319.37,273.00 319.35,272.83 320.00,272.96 C320.65,273.09 321.73,273.11 322.60,273.83 C323.47,274.55 324.34,275.85 325.20,277.30 C326.07,278.75 327.00,280.91 327.81,282.51 C328.62,284.10 329.34,285.77 330.06,286.84 C330.79,287.91 331.22,288.40 332.14,288.92 C333.07,289.44 334.17,289.44 335.61,289.97 C337.06,290.49 339.08,291.47 340.82,292.05 C342.55,292.63 344.29,293.00 346.02,293.44 C347.76,293.87 349.49,294.22 351.23,294.65 C352.96,295.08 354.70,295.66 356.43,296.04 C358.17,296.41 359.90,296.70 361.64,296.90 C363.37,297.11 365.11,297.14 366.84,297.25 C368.58,297.37 370.31,297.37 372.05,297.60 C373.78,297.83 375.52,298.32 377.25,298.64 C378.99,298.96 380.72,299.25 382.46,299.51 C384.19,299.77 386.50,300.09 387.66,300.20 C388.82,300.32 389.11,300.20 389.40,300.20" fill="none" stroke="#dc0c0c" stroke-width="1.35" stroke-linejoin="round" stroke-linecap="round"/>
<path d="M242.30,246.10 C242.56,245.99 243.28,245.27 243.87,245.45 C244.46,245.62 245.19,246.50 245.84,247.15 C246.50,247.81 247.15,248.66 247.81,249.38 C248.47,250.10 249.12,250.87 249.78,251.48 C250.44,252.10 251.09,252.69 251.75,253.06 C252.40,253.43 252.95,253.67 253.72,253.71 C254.48,253.76 255.58,253.47 256.34,253.32 C257.11,253.17 257.65,252.99 258.31,252.80 C258.97,252.60 259.62,252.20 260.28,252.14 C260.93,252.07 261.59,252.03 262.25,252.40 C262.90,252.77 263.56,253.60 264.22,254.37 C264.87,255.14 265.53,256.23 266.18,256.99 C266.84,257.76 267.50,258.42 268.15,258.96 C268.81,259.51 269.36,259.84 270.12,260.28 C270.89,260.71 271.87,261.22 272.75,261.59 C273.62,261.96 274.50,262.22 275.37,262.51 C276.24,262.79 277.22,263.07 277.99,263.29 C278.77,263.52 279.23,263.82 280.00,263.87 C280.77,263.92 281.75,263.83 282.62,263.61 C283.50,263.39 284.48,262.95 285.25,262.56 C286.01,262.17 286.67,261.51 287.22,261.25 C287.76,260.98 287.98,260.77 288.53,260.98 C289.08,261.20 289.73,262.19 290.50,262.56 C291.26,262.93 292.25,263.17 293.12,263.22 C294.00,263.26 294.87,262.82 295.75,262.82 C296.62,262.82 297.61,263.26 298.37,263.22 C299.14,263.17 299.69,262.89 300.34,262.56 C301.00,262.23 301.54,261.64 302.31,261.25 C303.08,260.85 304.06,260.46 304.93,260.20 C305.81,259.93 306.68,259.89 307.56,259.67 C308.43,259.45 309.31,259.10 310.18,258.88 C311.06,258.67 312.04,258.58 312.81,258.36 C313.57,258.14 314.12,258.01 314.78,257.57 C315.43,257.13 316.09,256.22 316.75,255.73 C317.40,255.25 318.06,254.86 318.71,254.69 C319.37,254.51 320.03,254.53 320.68,254.69 C321.33,254.84 321.85,255.03 322.60,255.61 C323.36,256.20 324.34,257.06 325.20,258.22 C326.07,259.37 327.00,260.96 327.81,262.55 C328.62,264.14 329.34,266.31 330.06,267.76 C330.79,269.20 331.22,270.42 332.14,271.23 C333.07,272.04 334.17,272.10 335.61,272.62 C337.06,273.14 339.08,273.80 340.82,274.35 C342.55,274.90 344.29,275.42 346.02,275.91 C347.76,276.40 349.49,276.78 351.23,277.30 C352.96,277.82 354.70,278.54 356.43,279.04 C358.17,279.53 359.90,279.87 361.64,280.25 C363.37,280.63 365.54,281.12 366.84,281.29 C368.14,281.46 368.58,281.38 369.44,281.29 C370.31,281.20 370.75,280.65 372.05,280.77 C373.35,280.89 375.52,281.61 377.25,281.98 C378.99,282.36 380.72,282.65 382.46,283.03 C384.19,283.40 386.50,284.04 387.66,284.24 C388.82,284.44 389.11,284.24 389.40,284.24" fill="none" stroke="#8000ff" stroke-width="1.35" stroke-linejoin="round" stroke-linecap="round"/>
<line x1="46.2" x2="71.8" y1="41.9" y2="41.9" stroke="#e41820" stroke-width="1.3"/>
<line x1="46.2" x2="71.8" y1="55.4" y2="55.4" stroke="#a07400" stroke-width="1.3"/>
<line x1="46.2" x2="71.8" y1="68.8" y2="68.8" stroke="#44a614" stroke-width="1.3"/>
<line x1="46.2" x2="71.8" y1="82.4" y2="82.4" stroke="#009640" stroke-width="1.3"/>
<line x1="97.9" x2="123.3" y1="41.9" y2="41.9" stroke="#2a7fc0" stroke-width="1.3"/>
<line x1="97.9" x2="123.3" y1="55.4" y2="55.4" stroke="#5434f0" stroke-width="1.3"/>
<line x1="97.9" x2="123.3" y1="68.8" y2="68.8" stroke="#c01cc8" stroke-width="1.3"/>
<text x="79.2" y="27.4" font-size="10.5" text-anchor="start" fill="#151515" font-weight="normal" >T (K)</text>
<text x="74.2" y="45.8" font-size="10.5" text-anchor="start" fill="#151515" font-weight="normal" >300</text>
<text x="74.2" y="59.3" font-size="10.5" text-anchor="start" fill="#151515" font-weight="normal" >250</text>
<text x="74.2" y="72.7" font-size="10.5" text-anchor="start" fill="#151515" font-weight="normal" >200</text>
<text x="74.2" y="86.3" font-size="10.5" text-anchor="start" fill="#151515" font-weight="normal" >150</text>
<text x="143.6" y="45.8" font-size="10.4" text-anchor="end" fill="#151515" font-weight="normal" >100</text>
<text x="143.6" y="59.3" font-size="10.4" text-anchor="end" fill="#151515" font-weight="normal" >50</text>
<text x="143.6" y="72.7" font-size="10.4" text-anchor="end" fill="#151515" font-weight="normal" >10</text>
<text x="131.1" y="26.9" font-size="10.5" text-anchor="start" fill="#151515" font-weight="normal" >E</text>
<path d="M141.80,18.70 v10.2 M144.30,18.70 v10.2" stroke="#777" stroke-width="0.8" fill="none"/>
<text x="148.4" y="26.9" font-size="10.5" text-anchor="start" fill="#151515" font-weight="normal" >a-axis</text>
<text x="67.4" y="203.1" font-size="10.5" text-anchor="start" fill="#151515" font-weight="normal" >E</text>
<path d="M78.10,194.90 v10.2 M80.60,194.90 v10.2" stroke="#777" stroke-width="0.8" fill="none"/>
<text x="84.7" y="203.1" font-size="10.5" text-anchor="start" fill="#151515" font-weight="normal" >a-axis</text>
<text x="264.4" y="26.3" font-size="10.5" text-anchor="start" fill="#151515" font-weight="normal" >E</text>
<path d="M275.60,26.00 h8 M279.60,26.00 v-7.8" stroke="#777" stroke-width="0.8" fill="none"/>
<text x="287.7" y="26.3" font-size="10.5" text-anchor="start" fill="#151515" font-weight="normal" >a-axis</text>
<text x="266.9" y="202.6" font-size="10.5" text-anchor="start" fill="#151515" font-weight="normal" >E</text>
<path d="M278.90,202.30 h8 M282.90,202.30 v-7.8" stroke="#777" stroke-width="0.8" fill="none"/>
<text x="290.5" y="202.6" font-size="10.5" text-anchor="start" fill="#151515" font-weight="normal" >a-axis</text>
<text x="179.4" y="153.3" font-size="10.5" text-anchor="start" fill="#151515" font-weight="normal" >(a)</text>
<text x="179.4" y="196.7" font-size="10.5" text-anchor="start" fill="#151515" font-weight="normal" >(b)</text>
<text x="368.9" y="152.3" font-size="10.5" text-anchor="start" fill="#151515" font-weight="normal" >(c)</text>
<text x="368.9" y="197.9" font-size="10.5" text-anchor="start" fill="#151515" font-weight="normal" >(d)</text>
<text transform="translate(165.3,223.6) scale(1.04,1)" font-size="10.3" font-weight="bold" fill="#8000ff" stroke="#8000ff" stroke-width="0.15">10 K</text>
<text transform="translate(92.4,264.7) scale(1.04,1)" font-size="10.3" font-weight="bold" fill="#dc0c0c" stroke="#dc0c0c" stroke-width="0.15">300 K</text>
<text transform="translate(326.8,253.5) scale(1.04,1)" font-size="10.3" font-weight="bold" fill="#8000ff" stroke="#8000ff" stroke-width="0.15">10 K</text>
<text transform="translate(280.2,285.3) scale(1.04,1)" font-size="10.3" font-weight="bold" fill="#dc0c0c" stroke="#dc0c0c" stroke-width="0.15">300 K</text>
<text x="33.8" y="7.9" font-size="10" text-anchor="end" fill="#151515" font-weight="normal" >1.5</text>
<text x="33.8" y="60.9" font-size="10" text-anchor="end" fill="#151515" font-weight="normal" >1.0</text>
<text x="33.8" y="113.9" font-size="10" text-anchor="end" fill="#151515" font-weight="normal" >0.5</text>
<text x="33.8" y="166.9" font-size="10" text-anchor="end" fill="#151515" font-weight="normal" >0.0</text>
<text x="33.9" y="338.5" font-size="10" text-anchor="end" fill="#151515" font-weight="normal" >0</text>
<text x="33.9" y="285.6" font-size="10" text-anchor="end" fill="#151515" font-weight="normal" >1</text>
<text x="33.9" y="232.7" font-size="10" text-anchor="end" fill="#151515" font-weight="normal" >2</text>
<text x="33.9" y="179.8" font-size="10" text-anchor="end" fill="#151515" font-weight="normal" >3</text>
<text x="39.1" y="350.6" font-size="10" text-anchor="middle" fill="#151515" font-weight="normal" >0</text>
<text x="72.0" y="350.6" font-size="10" text-anchor="middle" fill="#151515" font-weight="normal" >200</text>
<text x="104.9" y="350.6" font-size="10" text-anchor="middle" fill="#151515" font-weight="normal" >400</text>
<text x="137.7" y="350.6" font-size="10" text-anchor="middle" fill="#151515" font-weight="normal" >600</text>
<text x="170.6" y="350.6" font-size="10" text-anchor="middle" fill="#151515" font-weight="normal" >800</text>
<text x="203.5" y="350.6" font-size="10" text-anchor="middle" fill="#151515" font-weight="normal" >1000</text>
<text x="225.1" y="350.6" font-size="10" text-anchor="middle" fill="#151515" font-weight="normal" >0</text>
<text x="258.0" y="350.6" font-size="10" text-anchor="middle" fill="#151515" font-weight="normal" >200</text>
<text x="290.9" y="350.6" font-size="10" text-anchor="middle" fill="#151515" font-weight="normal" >400</text>
<text x="323.7" y="350.6" font-size="10" text-anchor="middle" fill="#151515" font-weight="normal" >600</text>
<text x="356.6" y="350.6" font-size="10" text-anchor="middle" fill="#151515" font-weight="normal" >800</text>
<text x="389.5" y="350.6" font-size="10" text-anchor="middle" fill="#151515" font-weight="normal" >1000</text>
<text x="120.7" y="378.4" font-size="10.7" text-anchor="middle" fill="#151515" font-weight="normal" >Frequency (cm<tspan font-size="6.5" dy="-4">-1</tspan><tspan dy="4">)</tspan></text>
<text x="306.6" y="378.4" font-size="10.7" text-anchor="middle" fill="#151515" font-weight="normal" >Frequency (cm<tspan font-size="6.5" dy="-4">-1</tspan><tspan dy="4">)</tspan></text>
<text transform="translate(9.2,123.4) rotate(-90)" font-size="10.3" letter-spacing="0.15" fill="#151515">1/τ (10<tspan font-size="6.5" dy="-4">3</tspan><tspan dy="4">cm</tspan><tspan font-size="6.5" dy="-4">-1</tspan><tspan dy="4">)</tspan></text>
<text transform="translate(8.3,282.3) rotate(-90)" font-size="10.5" fill="#151515">m<tspan font-size="7" dy="-2.6">*</tspan><tspan dy="2.6" dx="0.3"> / m</tspan><tspan font-size="7.5" dy="2" dx="0.3">b</tspan></text>
</svg>
</body></html>
